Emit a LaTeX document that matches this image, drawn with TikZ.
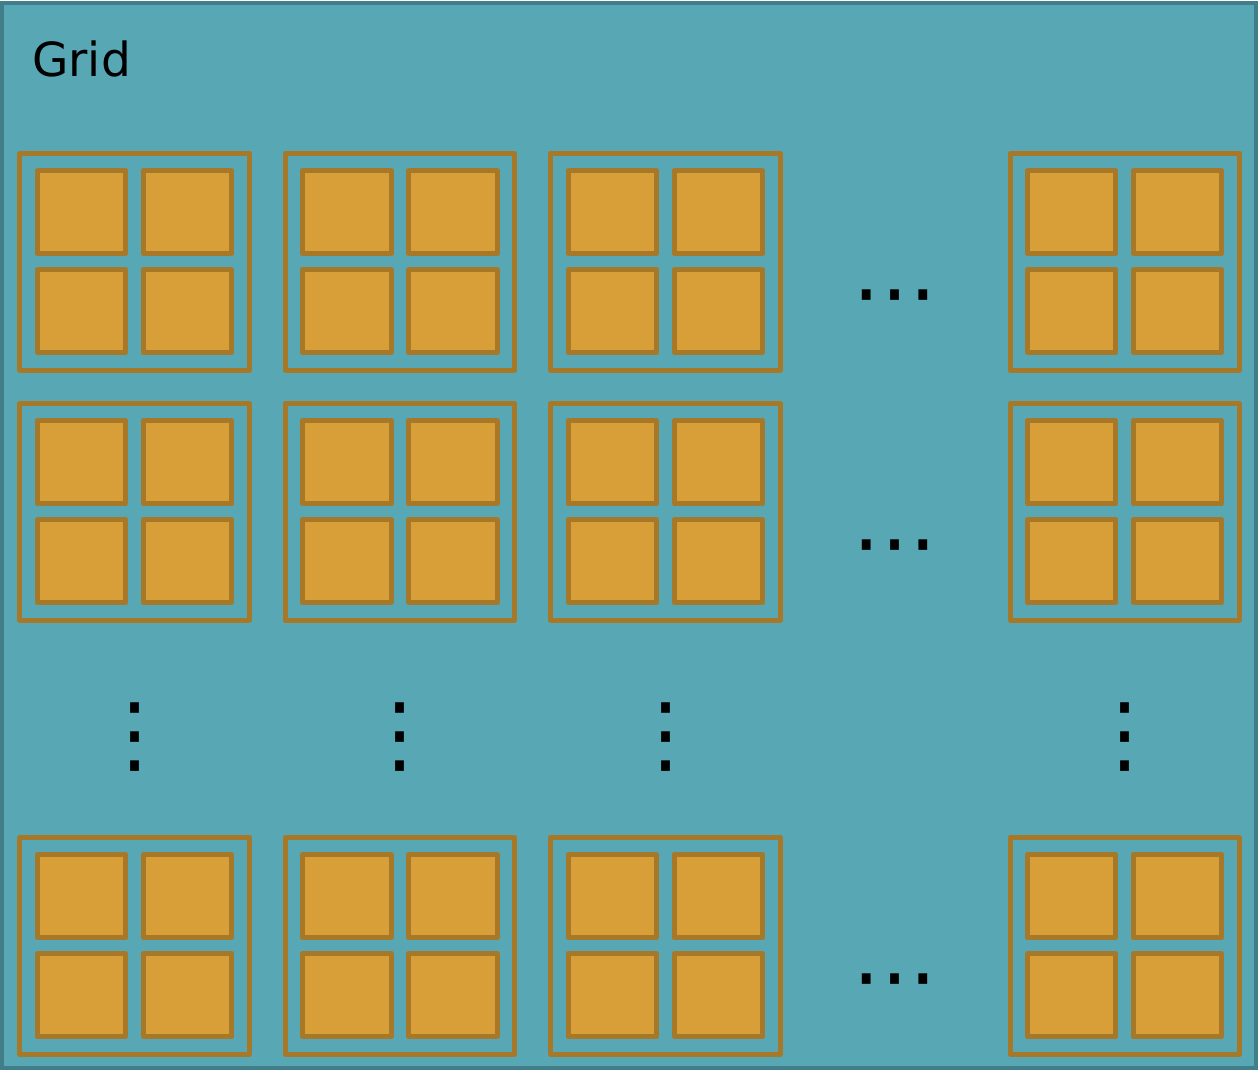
\documentclass[tikz,border=0pt]{standalone}
\usepackage{fontspec}
\usetikzlibrary{calc}
\setmainfont{DejaVu Sans}
\definecolor{gridfill}{RGB}{87,167,181}
\definecolor{gridline}{RGB}{65,126,138}
\definecolor{thfill}{RGB}{216,158,56}
\definecolor{thline}{RGB}{166,120,40}
\tikzset{
  gridbox/.style={draw=gridline, fill=gridfill, line width=4pt, minimum width=1254pt, minimum height=1065pt, inner sep=0pt, outer sep=0pt},
  blockbox/.style={draw=thline, line width=5pt, line join=round, minimum width=229.4pt, minimum height=216.7pt, inner sep=0pt, outer sep=0pt, anchor=north west},
  threadbox/.style={draw=thline, fill=thfill, line width=5pt, line join=round, minimum width=88.3pt, minimum height=82.7pt, inner sep=0pt, outer sep=0pt, anchor=north west},
  dotstext/.style={font=\fontsize{85}{85}\selectfont, inner sep=0pt},
}
\begin{document}
\begin{tikzpicture}[x=1pt,y=-1pt]
\useasboundingbox (0,0) rectangle (1258,1071);
\node[gridbox] (grid) at (629,535.5) {};
\node[anchor=base west, inner sep=0pt, font=\fontsize{47}{47}\selectfont] (title) at (32,76) {Grid};
\foreach \cx [count=\ci] in {19.8,285.2,550.8,1010}{
  \foreach \ry [count=\ri] in {153.5,403.5,837.5}{
    \node[blockbox] (b\ci\ri) at (\cx,\ry) {};
    \node[threadbox] (t\ci\ri a) at ($(\cx,\ry)+(17.5,17.3)$) {};
    \node[threadbox] (t\ci\ri b) at ($(\cx,\ry)+(123.5,17.3)$) {};
    \node[threadbox] (t\ci\ri c) at ($(\cx,\ry)+(17.5,116.3)$) {};
    \node[threadbox] (t\ci\ri d) at ($(\cx,\ry)+(123.5,116.3)$) {};
  }
}
\node[dotstext] (h1) at (894.7,306) {⋯};
\node[dotstext] (h2) at (894.7,556) {⋯};
\node[dotstext] (h3) at (894.7,989.5) {⋯};
\node[dotstext] (v1) at (134.5,737) {⋮};
\node[dotstext] (v2) at (399.9,737) {⋮};
\node[dotstext] (v3) at (665.5,737) {⋮};
\node[dotstext] (v4) at (1124.7,737) {⋮};
\end{tikzpicture}
\end{document}
